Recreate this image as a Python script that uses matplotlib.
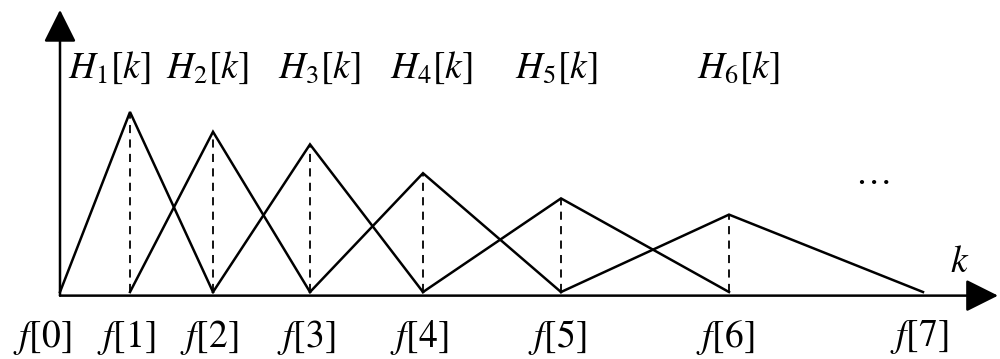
import matplotlib
matplotlib.use('Agg')
import matplotlib.pyplot as plt

# filter bank edges f[0..7] (in k units) and triangle peak heights
f_pos = [0, 70, 153, 250, 363, 501, 669, 863]
peaks = [1.0, 0.89, 0.82, 0.66, 0.52, 0.43]
f_labels = ['$f[%d]$' % i for i in range(len(f_pos))]
h_labels = ['$H_%d[k]$' % (m + 1) for m in range(len(peaks))]
h_dx = [-21, -6, 9, 8, -5, 9]  # nudges of the H labels, in px

plt.rcParams['font.family'] = ['Liberation Serif', 'DejaVu Serif']
plt.rcParams['mathtext.fontset'] = 'stix'

fig = plt.figure(figsize=(10, 3.59), dpi=100)
ax = fig.add_axes([0, 0, 1, 1])
ax.set_xlim(-60, 940)
ax.set_ylim(-0.372, 1.622)
ax.axis('off')

# axes with arrow heads
base = -0.02
arrow = dict(arrowstyle='-|>,head_length=2.0,head_width=1.0', mutation_scale=10,
             lw=1.8, color='black', shrinkA=0, shrinkB=0)
ax.annotate('', xy=(0, 1.567), xytext=(0, base), arrowprops=arrow)
ax.annotate('', xy=(938, base), xytext=(0, base), arrowprops=arrow)

# triangular filters
for m in range(1, len(f_pos) - 1):
    ax.plot([f_pos[m - 1], f_pos[m], f_pos[m + 1]], [0, peaks[m - 1], 0],
            color='black', lw=1.8, solid_joinstyle='miter')
ax.vlines(f_pos[1:-1], 0, peaks, colors='black', lw=1.3, linestyles=(0, (4.5, 3.5)))

# labels
for i, (x, lab) in enumerate(zip(f_pos, f_labels)):
    dx = -18 if i == 0 else -4
    ax.text(x + dx, -0.25, lab, ha='center', va='center', fontsize=27)
for x, h, lab, dx in zip(f_pos[1:-1], peaks, h_labels, h_dx):
    ax.text(x + dx, 1.244, lab, ha='center', va='center', fontsize=27)
ax.text(900, 0.16, '$k$', ha='center', va='center', fontsize=27)
ax.text(813, 0.6, '…', ha='center', va='baseline', fontsize=26)

fig.savefig('out.png', dpi=100)
